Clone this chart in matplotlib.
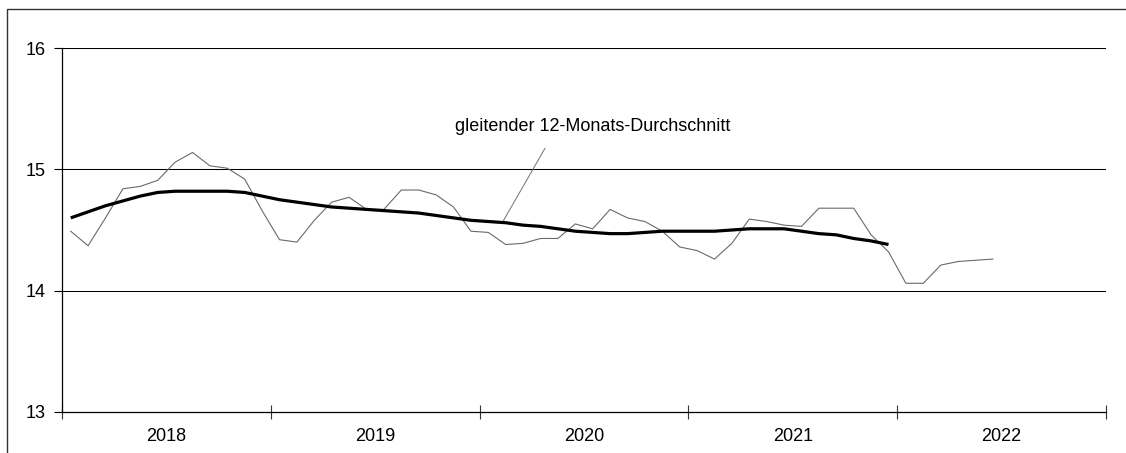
import matplotlib
matplotlib.use('Agg')
import matplotlib.pyplot as plt
from matplotlib.patches import Rectangle
from matplotlib.ticker import FixedLocator, NullFormatter

plt.rcParams['font.family'] = ['Liberation Sans', 'DejaVu Sans']

# monthly values Jan 2018 - Jun 2022
years = ['2018', '2019', '2020', '2021', '2022']
monthly = [14.49, 14.37, 14.60, 14.84, 14.86, 14.91, 15.06, 15.14, 15.03, 15.01, 14.92, 14.66,
           14.42, 14.40, 14.58, 14.73, 14.77, 14.67, 14.67, 14.83, 14.83, 14.79, 14.69, 14.49,
           14.48, 14.38, 14.39, 14.43, 14.43, 14.55, 14.51, 14.67, 14.60, 14.57, 14.49, 14.36,
           14.33, 14.26, 14.39, 14.59, 14.57, 14.54, 14.53, 14.68, 14.68, 14.68, 14.46, 14.32,
           14.06, 14.06, 14.21, 14.24, 14.25, 14.26]
# gleitender 12-Monats-Durchschnitt, Jan 2018 - Dec 2021
moving_avg = [14.60, 14.65, 14.70, 14.74, 14.78, 14.81, 14.82, 14.82, 14.82, 14.82, 14.81, 14.78,
              14.75, 14.73, 14.71, 14.69, 14.68, 14.67, 14.66, 14.65, 14.64, 14.62, 14.60, 14.58,
              14.57, 14.56, 14.54, 14.53, 14.51, 14.49, 14.48, 14.47, 14.47, 14.48, 14.49, 14.49,
              14.49, 14.49, 14.50, 14.51, 14.51, 14.51, 14.49, 14.47, 14.46, 14.43, 14.41, 14.38]

x_m = [i + 0.5 for i in range(len(monthly))]
x_ma = [i + 0.5 for i in range(len(moving_avg))]

fs = 13

fig = plt.figure(figsize=(11.26, 4.53), dpi=100)
ax = fig.add_axes([62 / 1126, 1 - 411.7 / 453, 1044 / 1126, 363.4 / 453])

for yv in [14, 15, 16]:
    ax.axhline(yv, color='black', lw=0.75, zorder=1)

ax.plot(x_m, monthly, color='#6a6a6a', lw=0.8, zorder=2)
ax.plot(x_ma, moving_avg, color='black', lw=2.3, zorder=3, solid_capstyle='butt')

ax.set_xlim(0, 12 * len(years))
ax.set_ylim(13, 16)
ax.set_yticks([13, 14, 15, 16])
ax.set_yticklabels(['13', '14', '15', '16'], fontsize=fs)
ax.xaxis.set_major_locator(FixedLocator([12 * i for i in range(len(years) + 1)]))
ax.xaxis.set_major_formatter(NullFormatter())
ax.xaxis.set_minor_locator(FixedLocator([12 * i + 6 for i in range(len(years))]))
ax.set_xticklabels(years, minor=True, fontsize=fs)
ax.tick_params(axis='x', which='major', direction='inout', length=10, width=0.8, color='#333333')
ax.tick_params(axis='x', which='minor', length=0, pad=12)
ax.tick_params(axis='y', direction='out', length=6, width=0.8, pad=6)

for s in ['top', 'right']:
    ax.spines[s].set_visible(False)
for s in ['left', 'bottom']:
    ax.spines[s].set_linewidth(0.9)
    ax.spines[s].set_color('black')

ax.text(30.5, 15.32, 'gleitender 12-Monats-Durchschnitt', fontsize=fs, ha='center', va='baseline')
ax.annotate('', xy=(25.36, 14.575), xytext=(27.76, 15.175),
            arrowprops=dict(arrowstyle='-', color='#707070', lw=0.7, shrinkA=0, shrinkB=0))

fig.patches.append(Rectangle((7 / 1126, -0.1), 2, 1.1 - 9.5 / 453, transform=fig.transFigure,
                             fill=False, edgecolor='#333333', lw=1))

fig.savefig('out.png', dpi=100)
